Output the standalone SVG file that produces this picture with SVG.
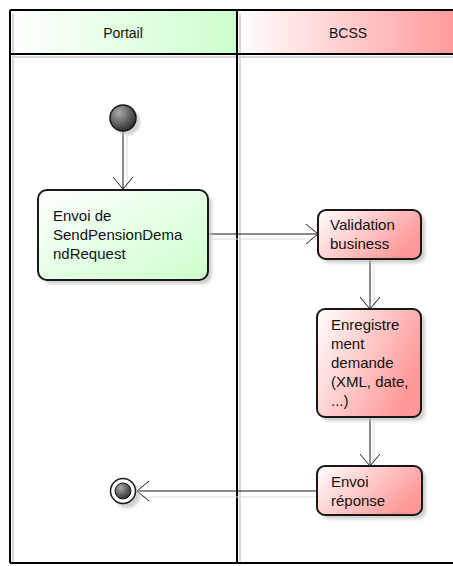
<svg xmlns="http://www.w3.org/2000/svg" width="453" height="566" viewBox="0 0 453 566">
<defs>
<linearGradient id="gHead" x1="0" y1="0" x2="1" y2="0"><stop offset="0" stop-color="#ffffff"/><stop offset="1" stop-color="#ccffcc"/></linearGradient>
<linearGradient id="rHead" x1="0" y1="0" x2="1" y2="0"><stop offset="0" stop-color="#ffffff"/><stop offset="1" stop-color="#ff9c9c"/></linearGradient>
<linearGradient id="gBox" x1="0" y1="0" x2="1" y2="1"><stop offset="0" stop-color="#ffffff"/><stop offset="1" stop-color="#ccffcc"/></linearGradient>
<linearGradient id="rBox" x1="0" y1="0" x2="1" y2="0.5"><stop offset="0" stop-color="#ffffff"/><stop offset="1" stop-color="#ff9999"/></linearGradient>
<radialGradient id="dot" cx="0.35" cy="0.3" r="0.8"><stop offset="0" stop-color="#aaaaaa"/><stop offset="1" stop-color="#222222"/></radialGradient>
<filter id="sh" x="-20%" y="-20%" width="150%" height="150%"><feGaussianBlur stdDeviation="1.5"/></filter>
<marker id="arr" viewBox="0 0 12 20" refX="12" refY="10" markerWidth="12" markerHeight="20" markerUnits="userSpaceOnUse" orient="auto"><path d="M0,0 L12,10 L0,20" fill="none" stroke="#181818" stroke-width="1"/></marker>
</defs>
<style>
.lane{stroke:#000;stroke-width:2;fill:none}
.laneSh{stroke:#d8d8d8;stroke-width:2;fill:none}
.hd{font-family:"Liberation Sans",Arial,sans-serif;font-size:14px;fill:#111;text-anchor:middle}
.t{font-family:"Liberation Sans",Arial,sans-serif;font-size:15px;fill:#111}
.box{stroke:#181818;stroke-width:2}
.shd{fill:#bbbbbb;filter:url(#sh);opacity:0.7}
.cn{stroke:#181818;stroke-width:1;fill:none;marker-end:url(#arr)}
.cnSh{stroke:#dddddd;stroke-width:1;fill:none}
</style>

<g id="swimlanes">
<rect x="10" y="10" width="227" height="44" fill="url(#gHead)"/>
<rect x="237" y="10" width="216" height="44" fill="url(#rHead)"/>
<line class="laneSh" x1="13" y1="14" x2="13" y2="563"/>
<line class="laneSh" x1="240" y1="14" x2="240" y2="563"/>
<line class="laneSh" x1="13" y1="57" x2="453" y2="57"/>
<line class="lane" x1="10" y1="10" x2="453" y2="10"/>
<line class="lane" x1="10" y1="54" x2="453" y2="54"/>
<line class="lane" x1="10" y1="10" x2="10" y2="563"/>
<line class="lane" x1="237" y1="10" x2="237" y2="563"/>
<line class="lane" x1="10" y1="563" x2="453" y2="563"/>
<text class="hd" x="123" y="38">Portail</text>
<text class="hd" x="348" y="38">BCSS</text>
</g>

<g id="connectors">
<line class="cnSh" x1="127" y1="135" x2="127" y2="193"/>
<line class="cnSh" x1="212" y1="239" x2="322" y2="239"/>
<line class="cnSh" x1="374" y1="263" x2="374" y2="313"/>
<line class="cnSh" x1="374" y1="421" x2="374" y2="470"/>
<line class="cnSh" x1="321" y1="497" x2="141" y2="497"/>
<line class="cn" x1="123" y1="131" x2="123" y2="189"/>
<line class="cn" x1="208" y1="234" x2="318" y2="234"/>
<line class="cn" x1="370" y1="259" x2="370" y2="309"/>
<line class="cn" x1="370" y1="417" x2="370" y2="466"/>
<line class="cn" x1="317" y1="491" x2="137" y2="491"/>
</g>

<g id="start">
<circle class="shd" cx="127" cy="122" r="13"/>
<circle cx="123" cy="118" r="13" fill="url(#dot)" stroke="#181818" stroke-width="1.5"/>
</g>

<g id="envoi-send">
<rect class="shd" x="42" y="194" width="170" height="90" rx="9"/>
<rect class="box" x="38" y="190" width="170" height="90" rx="9" fill="url(#gBox)"/>
<text class="t" x="53" y="221">Envoi de</text>
<text class="t" x="53" y="240">SendPensionDema</text>
<text class="t" x="53" y="259">ndRequest</text>
</g>

<g id="validation">
<rect class="shd" x="322" y="214" width="103" height="49" rx="8"/>
<rect class="box" x="318" y="210" width="103" height="49" rx="8" fill="url(#rBox)"/>
<text class="t" x="330" y="230">Validation</text>
<text class="t" x="330" y="249">business</text>
</g>

<g id="enregistrement">
<rect class="shd" x="321" y="313" width="104" height="108" rx="8"/>
<rect class="box" x="317" y="309" width="104" height="108" rx="8" fill="url(#rBox)"/>
<text class="t" x="331" y="330">Enregistre</text>
<text class="t" x="331" y="349">ment</text>
<text class="t" x="331" y="368">demande</text>
<text class="t" x="331" y="387">(XML, date,</text>
<text class="t" x="331" y="406">...)</text>
</g>

<g id="envoi-reponse">
<rect class="shd" x="321" y="470" width="105" height="49" rx="8"/>
<rect class="box" x="317" y="466" width="105" height="49" rx="8" fill="url(#rBox)"/>
<text class="t" x="331" y="487">Envoi</text>
<text class="t" x="331" y="506">réponse</text>
</g>

<g id="end">
<circle class="shd" cx="127" cy="495" r="13"/>
<circle cx="123" cy="491" r="12.5" fill="#ffffff" stroke="#181818" stroke-width="1.5"/>
<circle cx="123" cy="491" r="8" fill="url(#dot)" stroke="#181818" stroke-width="1"/>
</g>
</svg>
